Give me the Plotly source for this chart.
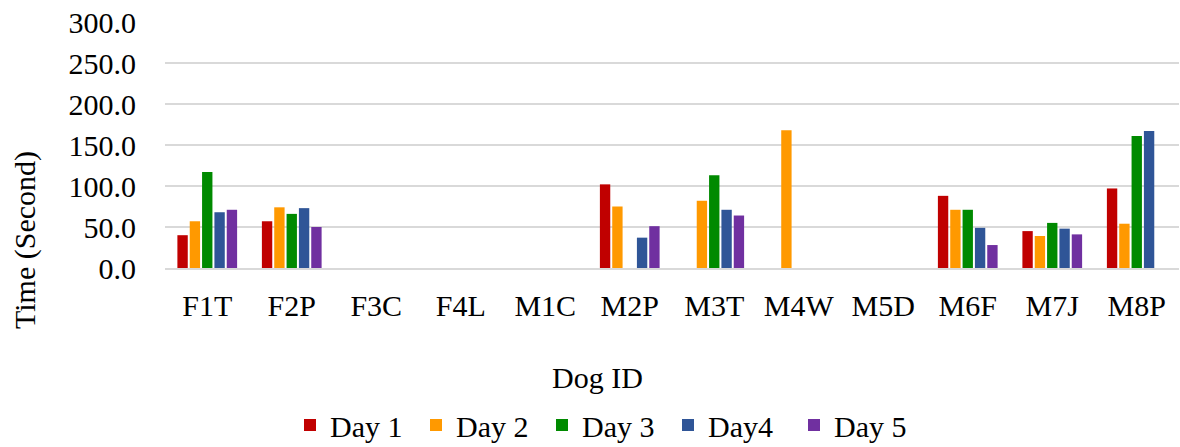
import plotly.graph_objects as go

# Dog IDs along the x axis
dogs = ["F1T", "F2P", "F3C", "F4L", "M1C", "M2P", "M3T", "M4W", "M5D", "M6F", "M7J", "M8P"]

# Time in seconds per day (None = no trial recorded)
day1 = [40, 57, None, None, None, 102, None, None, None, 88, 45, 97]
day2 = [57, 74, None, None, None, 75, 82, 168, None, 71, 39, 54]
day3 = [117, 66, None, None, None, None, 113, None, None, 71, 55, 161]
day4 = [68, 73, None, None, None, 37, 71, None, None, 49, 48, 167]
day5 = [71, 50, None, None, None, 51, 64, None, None, 28, 41, None]

series_names = ["Day 1", "Day 2", "Day 3", "Day4", "Day 5"]
series_vals = [day1, day2, day3, day4, day5]
colors = ["#C00000", "#FF9900", "#008A00", "#2F5597", "#7030A0"]

FONT = "Liberation Serif, Times New Roman, serif"
GRID = "#D9D9D9"

fig = go.Figure()
for name, vals, col in zip(series_names, series_vals, colors):
    fig.add_trace(go.Bar(
        x=dogs, y=vals, name=name,
        marker=dict(color=col, line=dict(width=0)),
    ))

# plot area in pixels
L, R, T, B = 165, 1, 22, 179
W, H = 1180, 447
pw = W - L - R
ph = H - T - B

fig.update_layout(
    width=W, height=H,
    margin=dict(l=L, r=R, t=T, b=B, pad=0),
    paper_bgcolor="white", plot_bgcolor="white",
    barmode="group", bargap=0.27, bargroupgap=0.16,
    font=dict(family=FONT, size=30, color="black"),
    showlegend=True,
    legend=dict(
        orientation="h", xref="container", yref="container",
        x=290 / W, xanchor="left", y=1 - 425 / H, yanchor="middle",
        font=dict(family=FONT, size=30, color="black"),
        itemsizing="constant", tracegroupgap=0, itemwidth=30,
        entrywidth=81,
    ),
    xaxis=dict(
        showgrid=False, showline=True, linecolor=GRID, linewidth=1.5,
        ticks="", ticklabelstandoff=10,
        tickfont=dict(family=FONT, size=30, color="black"),
    ),
    yaxis=dict(
        range=[0, 300], dtick=50, tickformat=".1f",
        showgrid=True, gridcolor=GRID, gridwidth=1.5,
        zeroline=False, showline=False, ticks="",
        ticklabelstandoff=28,
        tickfont=dict(family=FONT, size=30, color="black"),
    ),
    annotations=[
        dict(text="Dog ID", xref="paper", yref="paper",
             x=(597 - L) / pw, y=-(377 - (T + ph)) / ph,
             xanchor="center", yanchor="middle", showarrow=False,
             font=dict(family=FONT, size=30, color="black")),
        dict(text="Time (Second)", xref="paper", yref="paper",
             x=(25 - L) / pw, y=((T + ph) - 240) / ph, textangle=-90,
             xanchor="center", yanchor="middle", showarrow=False,
             font=dict(family=FONT, size=30, color="black")),
    ],
)

fig.write_html("out.html")
